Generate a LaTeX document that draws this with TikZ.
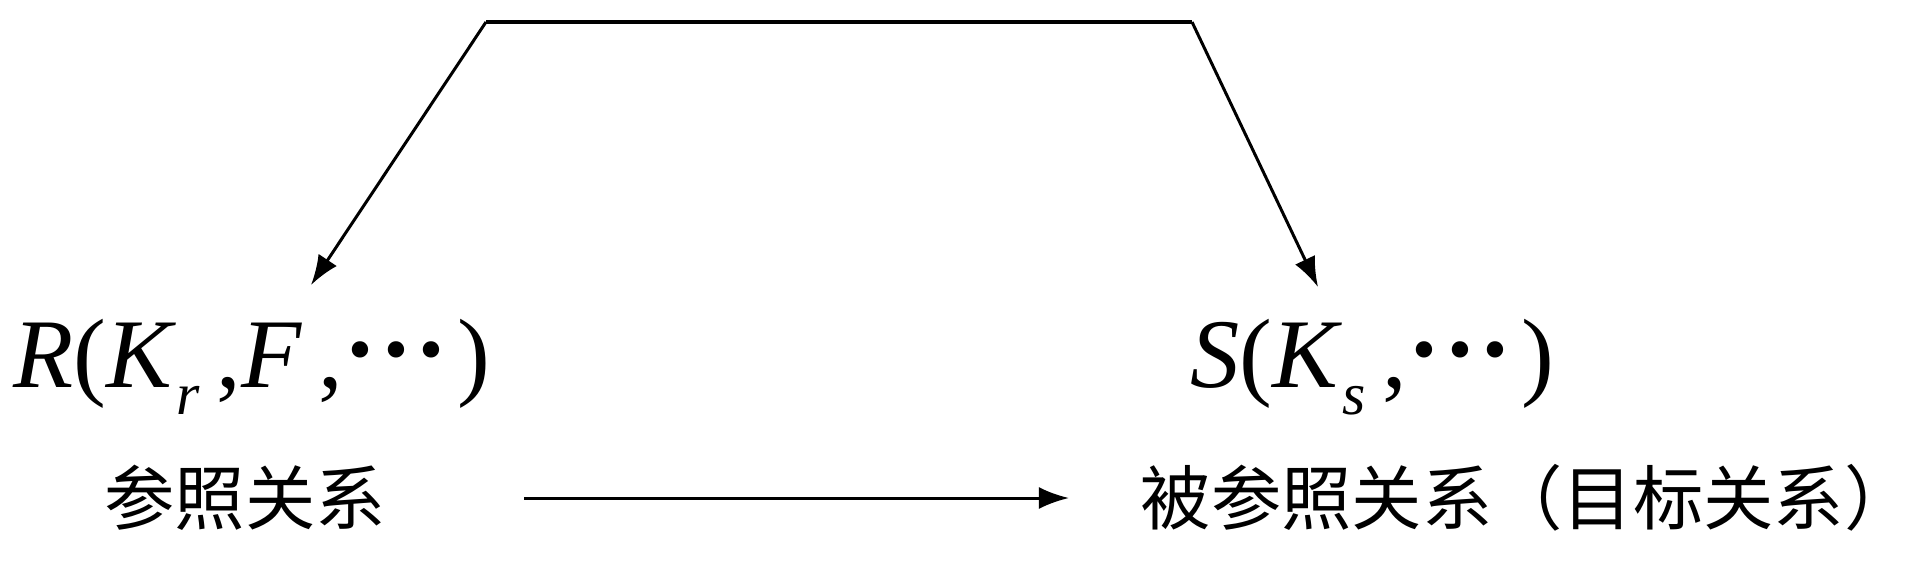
\documentclass[tikz,border=0pt]{standalone}
\usepackage{fontspec}
\usepackage{graphicx}
\setmainfont{Liberation Serif}
\newfontfamily\cjk{Noto Sans CJK SC}
\usetikzlibrary{positioning, arrows.meta}
\newcommand{\itv}[1]{\textit{#1}}
\newcommand{\subv}[1]{\raisebox{-0.28em}{\fontsize{17}{20}\selectfont\itv{#1}}}
\newcommand{\dotv}{\makebox[0.36em]{\raisebox{-0.09em}{\scalebox{1.4}{·}}}}
\newcommand{\dotsv}{\dotv\dotv\dotv\hspace{0.08em}}

\begin{document}
\begin{tikzpicture}[x=0.01cm,y=-0.01cm,
    relnode/.style={inner sep=0pt, font=\fontsize{28}{34}\selectfont},
    labnode/.style={inner sep=0pt, font=\cjk\fontsize{20}{24}\selectfont},
    arr/.style={-{Latex[length=0.3cm,width=0.22cm]}, line width=0.85pt}]
  \useasboundingbox (0,0) rectangle (1913,569);
  \node[relnode, anchor=base west] (R) at (13,387) {\itv{R}(\itv{K}\subv{r}\,,\itv{F}\,,\dotsv)};
  \node[relnode, anchor=base west] (S) at (1190,387) {\itv{S}(\itv{K}\subv{s}\,,\dotsv)};
  \node[labnode] (refl) at (245,498) {参照关系};
  \node[labnode, anchor=west] (tgtl) at (1140,498) {被参照关系（目标关系）};
  \coordinate (tl) at (486,22);
  \coordinate (tr) at (1192,22);
  \coordinate (rtip) at (311,285);
  \coordinate (stip) at (1318,287);
  \draw[line width=1.1pt] (tl) -- (tr);
  \draw[arr] (tl) -- (rtip);
  \draw[arr] (tr) -- (stip);
  \draw[arr] ([xshift=1.38cm]refl.east) -- ([xshift=-0.71cm]tgtl.west);
\end{tikzpicture}
\end{document}
